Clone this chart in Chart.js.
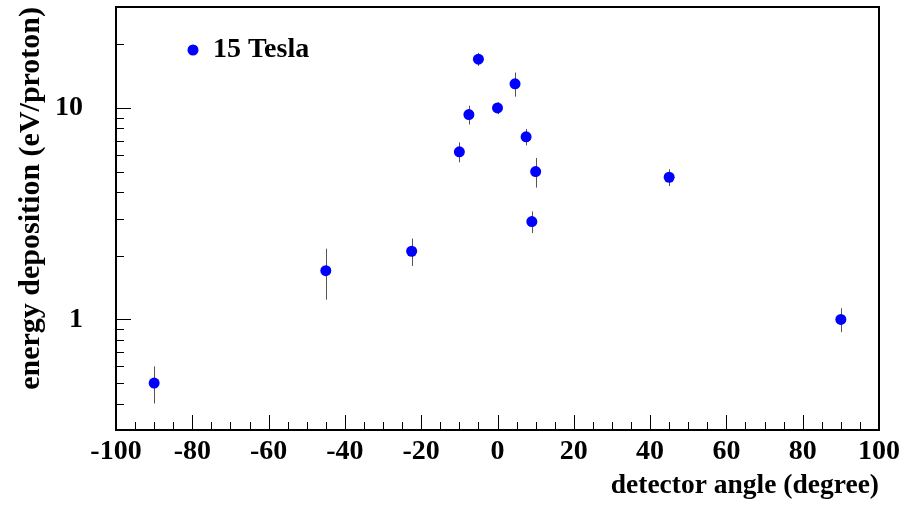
<!DOCTYPE html>
<html>
<head>
<meta charset="utf-8">
<script src="https://cdn.jsdelivr.net/npm/chart.js@4/dist/chart.umd.min.js"></script>
<style>
  body { margin: 0; background: #fff; }
  canvas { display: block; }
</style>
</head>
<body>
<canvas id="chart" width="907" height="517"></canvas>
<script>
// ====== DATA ======
const seriesLabel = "15 Tesla";
const angles = [-90, -45, -22.5, -10, -7.5, -5, 0, 4.6, 7.5, 9, 10, 45, 90];
const energy = [0.5, 1.7, 2.1, 6.2, 9.3, 17, 10, 13, 7.3, 2.9, 5.0, 4.7, 1.0];
const errors = [0.1, 0.46, 0.31, 0.67, 0.95, 1.2, 0.65, 1.7, 0.65, 0.34, 0.8, 0.43, 0.13];
const xTicks = [-100, -80, -60, -40, -20, 0, 20, 40, 60, 80, 100];
const yTicks = [1, 10];
const yMinor = [0.4, 0.5, 0.6, 0.7, 0.8, 0.9, 2, 3, 4, 5, 6, 7, 8, 9, 20];

const FONT = "'Liberation Serif', 'Times New Roman', serif";

// ====== FRAME, TICKS, ERROR BARS, LEGEND ======
const rootStyle = {
  id: "rootStyle",
  beforeDatasetsDraw(chart) {
    const ctx = chart.ctx;
    const xs = chart.scales.x, ys = chart.scales.y;
    ctx.save();
    ctx.strokeStyle = "#555";
    ctx.lineWidth = 1;
    angles.forEach((a, i) => {
      const px = Math.round(xs.getPixelForValue(a)) + 0.5;
      ctx.beginPath();
      ctx.moveTo(px, ys.getPixelForValue(energy[i] + errors[i]));
      ctx.lineTo(px, ys.getPixelForValue(energy[i] - errors[i]));
      ctx.stroke();
    });
    ctx.restore();
  },
  afterDraw(chart) {
    const ctx = chart.ctx;
    const a = chart.chartArea;
    const xs = chart.scales.x, ys = chart.scales.y;
    ctx.save();
    ctx.strokeStyle = "#000";
    ctx.lineWidth = 1;
    // x ticks (inside, bottom)
    for (let v = -95; v < 100; v += 5) {
      const px = Math.round(xs.getPixelForValue(v)) + 0.5;
      const len = v % 20 === 0 ? 15 : 8;
      ctx.beginPath();
      ctx.moveTo(px, a.bottom);
      ctx.lineTo(px, a.bottom - len);
      ctx.stroke();
    }
    // y ticks (inside, left)
    yTicks.concat(yMinor).forEach((v) => {
      const py = Math.round(ys.getPixelForValue(v)) + 0.5;
      const len = yTicks.includes(v) ? 15 : 8;
      ctx.beginPath();
      ctx.moveTo(a.left, py);
      ctx.lineTo(a.left + len, py);
      ctx.stroke();
    });
    // frame
    ctx.lineWidth = 2;
    ctx.strokeRect(a.left, a.top, a.right - a.left, a.bottom - a.top);

    // legend
    const ds = chart.data.datasets[0];
    ctx.fillStyle = ds.backgroundColor;
    ctx.beginPath();
    ctx.arc(a.left + 77, a.top + 43, 5.5, 0, Math.PI * 2);
    ctx.fill();
    ctx.fillStyle = "#000";
    ctx.font = "bold 28px " + FONT;
    ctx.textBaseline = "middle";
    ctx.fillText(ds.label, a.left + 97, a.top + 43);
    ctx.restore();
  },
};

// ====== CHART ======
new Chart(document.getElementById("chart"), {
  type: "scatter",
  data: {
    datasets: [
      {
        label: seriesLabel,
        data: angles.map((a, i) => ({ x: a, y: energy[i] })),
        backgroundColor: "#0000ff",
        borderWidth: 0,
        pointRadius: 5.5,
        pointHoverRadius: 5.5,
      },
    ],
  },
  options: {
    responsive: false,
    animation: false,
    layout: { padding: { top: 7, right: 28, left: 0, bottom: 0 } },
    plugins: { legend: { display: false }, tooltip: { enabled: false } },
    scales: {
      x: {
        type: "linear",
        min: -100,
        max: 100,
        afterFit: (s) => { s.height = 87; s.paddingLeft = 0; s.paddingRight = 0; },
        afterBuildTicks: (s) => { s.ticks = xTicks.map((v) => ({ value: v })); },
        grid: { display: false, drawTicks: false },
        border: { display: false },
        ticks: {
          autoSkip: false,
          maxRotation: 0,
          padding: 5,
          color: "#000",
          font: { family: FONT, size: 28, weight: "bold" },
        },
        title: {
          display: true,
          text: "detector angle (degree)",
          align: "end",
          color: "#000",
          padding: { top: 0, bottom: 15 },
          font: { family: FONT, size: 27.5, weight: "bold" },
        },
      },
      y: {
        type: "logarithmic",
        min: 0.3,
        max: 30,
        afterFit: (s) => { s.width = 116; s.paddingTop = 0; s.paddingBottom = 0; },
        afterBuildTicks: (s) => { s.ticks = yTicks.map((v) => ({ value: v })); },
        grid: { display: false, drawTicks: false },
        border: { display: false },
        ticks: {
          autoSkip: false,
          padding: 33,
          color: "#000",
          font: { family: FONT, size: 28, weight: "bold" },
          callback: (v) => String(v),
        },
        title: {
          display: true,
          text: "energy deposition (eV/proton)",
          align: "end",
          color: "#000",
          padding: { top: 13, bottom: 0 },
          font: { family: FONT, size: 30, weight: "bold" },
        },
      },
    },
  },
  plugins: [rootStyle],
});
</script>
</body>
</html>
